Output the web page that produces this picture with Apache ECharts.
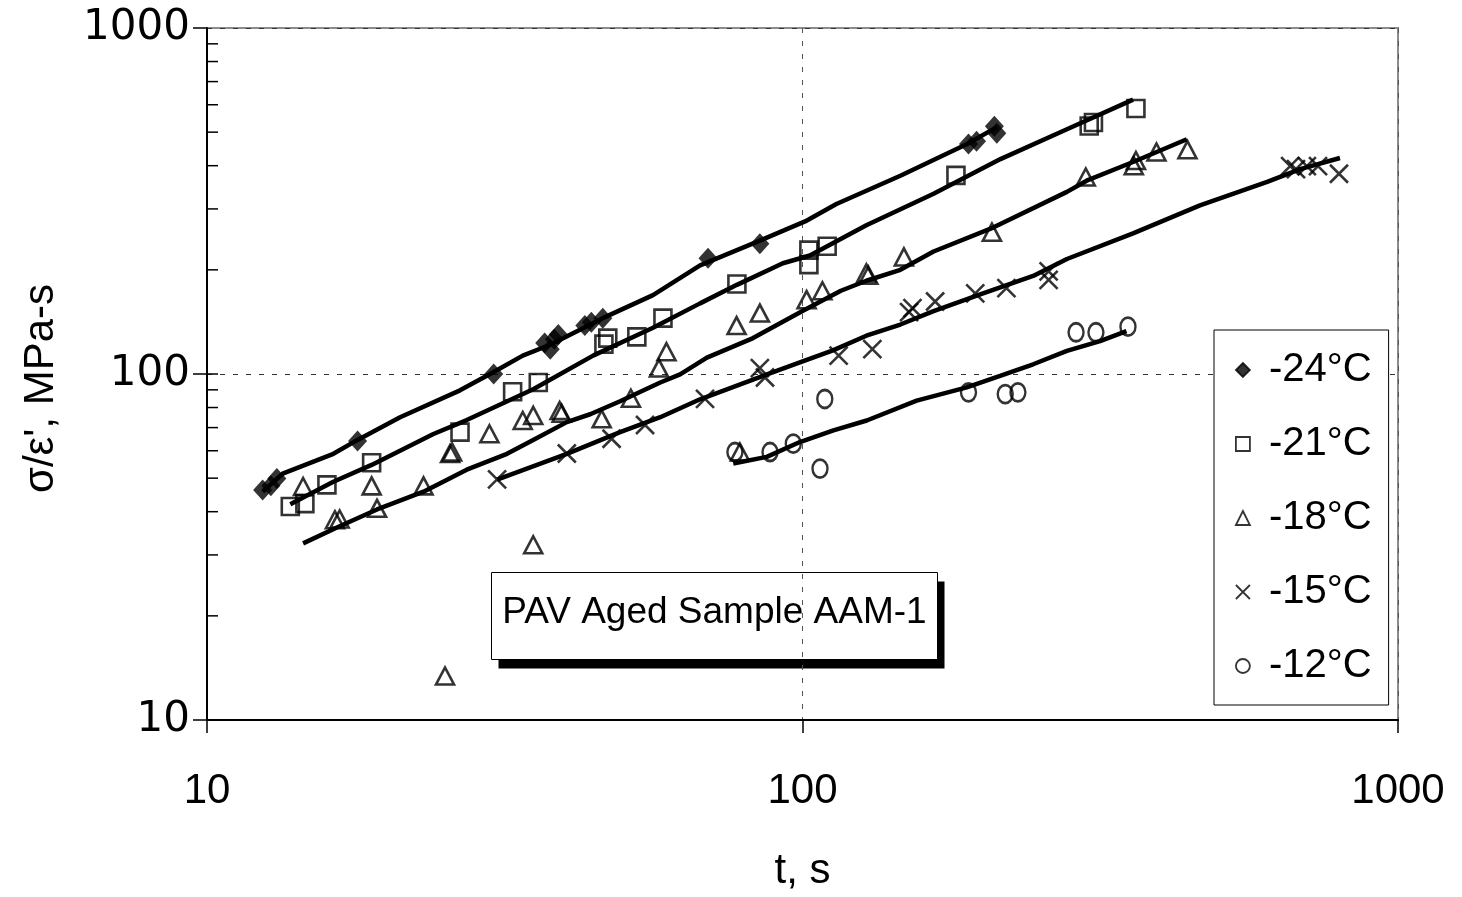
<!DOCTYPE html>
<html><head><meta charset="utf-8">
<script src="https://cdn.jsdelivr.net/npm/echarts@6/dist/echarts.min.js"></script>
<style>html,body{margin:0;padding:0;background:#fff}#c{width:1462px;height:897px}</style>
</head><body><div id="c"></div>
<script>
// ---- axis ticks ----
const xTicks = [10, 100, 1000];
const yTicks = [10, 100, 1000];
const yInsideTicks = [20,30,40,50,60,70,80,90,100,200,300,400,500,600,700,800,900];

// ---- series names ----
const names = ['-24°C', '-21°C', '-18°C', '-15°C', '-12°C'];

// ---- measured points [t (s), sigma/eps' (MPa-s)] ----
const pts24 = [[12.4,46.2],[12.8,47.5],[13.1,49.9],[17.9,64.0],[30.3,100],[36.9,123],[37.7,118],[38.3,126],[38.9,130],[43.1,138],[44.2,141],[46.2,145],[69.4,216],[84.8,238],[190,462],[196,471],[210,520],[212,496]];
const pts21 = [[13.8,41.4],[14.6,42.2],[15.9,47.8],[18.9,55.4],[26.6,67.9],[32.6,88.9],[36.0,94.5],[46.4,122],[47.1,127],[52.7,128],[58.3,145],[77.6,182],[102.5,228],[102.5,207],[110,234],[181,375],[303,521],[308,533],[363,585]];
const pts18 = [[14.5,47.3],[16.4,37.9],[16.7,38.1],[18.9,47.5],[19.3,40.9],[23.1,47.5],[25.1,13.4],[25.6,58.9],[25.8,59.5],[29.8,67.2],[33.9,73.4],[35.3,75.9],[35.3,32.1],[39.1,78.4],[39.4,77.0],[46.0,74.2],[51.5,85.1],[57.4,104],[59.1,116],[77.5,138],[78.5,59.5],[84.8,150],[101.6,164],[108,174],[128,196],[129,193],[148,218],[208,257],[299,371],[360,400],[363,414],[393,438],[443,445]];
const pts15 = [[30.7,49.6],[40.2,58.9],[47.8,65.0],[54.4,71.2],[68.6,84.7],[84.8,104],[86.5,97.7],[115,113],[131,118],[151,151],[153,155],[167,162],[195,171],[220,177],[259,198],[259,187],[659,399],[674,391],[703,399],[734,399],[796,379]];
const pts12 = [[77.0,59.5],[88.2,59.5],[96.5,62.9],[109,84.7],[107,53.3],[190,88.5],[219,87.5],[230,88.5],[288,132],[311,132],[352,137]];

// ---- fitted curves ----
const fit24 = [[12.4,45.7],[13.4,51.5],[16.3,58.8],[17.9,64.5],[21.1,75],[26.6,89.7],[30.2,101],[33.9,113],[37.7,121.5],[46.2,145],[56.1,169],[67.3,206],[84.8,243],[101,276],[114,310],[146,374],[189,462],[212,517]];
const fit21 = [[13.8,42.0],[16.3,48.8],[18.9,54.6],[24.0,67.1],[27.3,73.6],[35.3,90.3],[44.5,113],[56.1,136],[67.3,160],[77.6,181],[92.7,209],[102.9,220],[128,269],[166,332],[215,418],[278,510],[359,621]];
const fit18 = [[14.5,32.4],[16.7,36.3],[19.3,40.6],[23.1,45.7],[27.3,52.9],[31.9,58.8],[35.3,64.5],[40.2,72.6],[44.0,76.5],[49.4,83.4],[57.7,94.5],[62.3,99.7],[69.1,111.5],[82.6,127],[100,152],[116,174],[128,186],[146,200],[166,226],[209,265],[278,336],[300,362],[359,410],[442,477]];
const fit15 = [[30.7,49.5],[40.2,58.8],[49.4,67.9],[57.7,75.0],[67.3,84.5],[87.2,99.7],[99,108],[112.5,117],[128,129],[146,139],[166,152],[201,171],[244,192],[278,215],[359,255],[465,307],[603,359],[685,391],[799,421]];
const fit12 = [[76.5,55.1],[87.1,57.6],[99,63.6],[112.7,68.7],[128.2,73.4],[155.5,83.8],[188.7,91.5],[214.7,98.8],[244,106.7],[278,116.6],[316,124.5],[350,133.1]];

const FONT = "'Liberation Sans', Arial, sans-serif";
const chart = echarts.init(document.getElementById('c'), null, {renderer: 'canvas'});

const hollow = {color: 'rgba(0,0,0,0)', borderColor: '#000', borderWidth: 2.6};
const scatterBase = {type: 'scatter', z: 5, emphasis: {disabled: true}, silent: true};
const lineBase = {type: 'line', showSymbol: false, symbol: 'none', z: 3, silent: true,
  lineStyle: {color: '#000', width: 4.5}, itemStyle: {color: '#000'}};

const fmt = v => String(Math.round(v));

chart.setOption({
  animation: false,
  backgroundColor: '#fff',
  grid: {left: 207, top: 28, right: 64, bottom: 171, show: true, borderColor: '#8c8c8c', borderWidth: 2, backgroundColor: 'rgba(0,0,0,0)'},
  xAxis: {
    type: 'log', logBase: 10, min: xTicks[0], max: xTicks[xTicks.length - 1],
    name: 't, s', nameLocation: 'middle', nameGap: 130,
    nameTextStyle: {fontFamily: FONT, fontSize: 42, color: '#000'},
    axisLine: {show: true, lineStyle: {color: '#000', width: 2}},
    axisTick: {show: true, length: 13, lineStyle: {color: '#000', width: 1.5}},
    axisLabel: {fontFamily: FONT, fontSize: 42, color: '#000', margin: 50, formatter: fmt},
    splitLine: {show: true, lineStyle: {color: '#555', width: 1, type: [5, 8]}},
    minorTick: {show: false}
  },
  yAxis: {
    type: 'log', logBase: 10, min: yTicks[0], max: yTicks[yTicks.length - 1],
    axisLine: {show: true, lineStyle: {color: '#000', width: 2}},
    axisTick: {show: true, length: 14, lineStyle: {color: '#000', width: 1.5}},
    axisLabel: {fontFamily: "'DejaVu Sans', sans-serif", fontSize: 42, color: '#000', margin: 17, formatter: fmt},
    splitLine: {show: true, lineStyle: {color: '#333', width: 1, type: [5, 8]}}
  },
  legend: {
    show: true, orient: 'vertical', left: 1214, top: 330,
    data: names.map(n => ({name: n})),
    padding: [20, 17, 19, 21],
    itemGap: 34, itemWidth: 14, itemHeight: 14,
    borderColor: '#000', borderWidth: 1, backgroundColor: '#fff',
    selectedMode: false,
    itemStyle: {borderWidth: 1.8},
    textStyle: {fontFamily: FONT, fontSize: 40, color: '#000', lineHeight: 40, padding: [0, 0, 0, 14]}
  },
  graphic: [
    {type: 'text', left: 20, top: 284, rotation: Math.PI / 2, z: 10,
     style: {text: "σ/ε', MPa-s", fontFamily: FONT, fontSize: 42, fill: '#000'}},
    {
    type: 'group', left: 491, top: 572, z: 10,
    children: [
      {type: 'rect', shape: {x: 7, y: 9, width: 446, height: 87}, style: {fill: '#000'}},
      {type: 'rect', shape: {x: 0, y: 0, width: 446, height: 87}, style: {fill: '#fff', stroke: '#000', lineWidth: 1}},
      {type: 'text', x: 223, y: 40, style: {text: 'PAV Aged Sample AAM-1', fontFamily: FONT, fontSize: 37, fill: '#000', align: 'center', verticalAlign: 'middle'}}
    ]
  }],
  series: [
    Object.assign({}, lineBase, {name: 'fit24', data: fit24}),
    Object.assign({}, lineBase, {name: 'fit21', data: fit21}),
    Object.assign({}, lineBase, {name: 'fit18', data: fit18}),
    Object.assign({}, lineBase, {name: 'fit15', data: fit15}),
    Object.assign({}, lineBase, {name: 'fit12', data: fit12}),
    Object.assign({}, scatterBase, {name: names[0], data: pts24, symbol: 'diamond', symbolSize: [19, 21], itemStyle: {color: '#000', borderColor: '#000', borderWidth: 0}}),
    Object.assign({}, scatterBase, {name: names[1], data: pts21, symbol: 'rect', symbolSize: 17, itemStyle: hollow}),
    Object.assign({}, scatterBase, {name: names[2], data: pts18, symbol: 'triangle', symbolSize: [18, 17], itemStyle: hollow}),
    Object.assign({}, scatterBase, {name: names[3], data: pts15, symbol: 'path://M0,0L10,10M10,0L0,10', symbolSize: 18, itemStyle: hollow}),
    Object.assign({}, scatterBase, {name: names[4], data: pts12, symbol: 'circle', symbolSize: [15, 18], itemStyle: hollow}),
    {
      type: 'custom', name: 'insideTicks', silent: true, z: 4,
      data: yInsideTicks.map(v => [xTicks[0], v]),
      renderItem: function (params, api) {
        const p = api.coord([api.value(0), api.value(1)]);
        return {type: 'line', shape: {x1: p[0], y1: p[1], x2: p[0] + 11, y2: p[1]}, style: {stroke: '#000', lineWidth: 1.5}};
      }
    }
  ]
});
</script>
</body></html>
